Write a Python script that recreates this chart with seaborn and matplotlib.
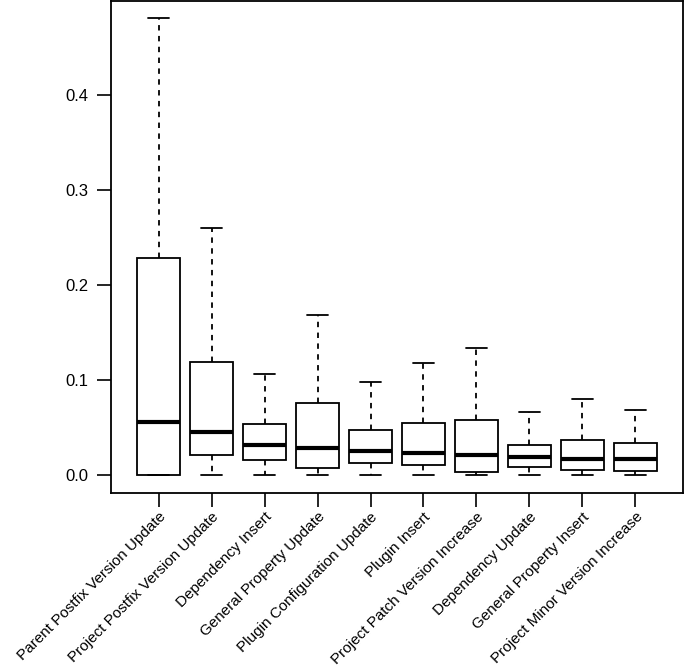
import numpy as np
import pandas as pd
import matplotlib
matplotlib.use('Agg')
import matplotlib.pyplot as plt
import seaborn as sns

## categories, in the order shown
categories = ["Parent Postfix Version Update", "Project Postfix Version Update",
              "Dependency Insert", "General Property Update",
              "Plugin Configuration Update", "Plugin Insert",
              "Project Patch Version Increase", "Dependency Update",
              "General Property Insert", "Project Minor Version Increase"]

## five-number summaries (min, q1, median, q3, max)
mins    = [0.0, 0.0, 0.0, 0.0, 0.0, 0.0, 0.0, 0.0, 0.0, 0.0]
q1s     = [0.0, 0.0204, 0.0158, 0.0074, 0.0126, 0.0098, 0.0025, 0.0077, 0.0053, 0.0035]
medians = [0.0558, 0.0446, 0.0313, 0.0281, 0.025, 0.0225, 0.021, 0.019, 0.0169, 0.0165]
q3s     = [0.2287, 0.119, 0.053, 0.0759, 0.0477, 0.0545, 0.058, 0.031, 0.0362, 0.034]
maxs    = [0.4815, 0.26, 0.106, 0.1686, 0.0977, 0.1177, 0.1338, 0.0657, 0.0794, 0.0678]

rows = []
for i, c in enumerate(categories):
    for v in (mins[i], q1s[i], medians[i], q3s[i], maxs[i]):
        rows.append({'type': c, 'value': v})
df = pd.DataFrame(rows)

sns.set_style('white')
plt.rcParams['font.family'] = ['Liberation Sans', 'DejaVu Sans']

fig = plt.figure(figsize=(6.85, 6.7), dpi=100)
ax = fig.add_axes([111/685, 1 - 493/670, 572/685, 492/670])

sns.boxplot(data=df, x='type', y='value', order=categories, ax=ax,
            whis=(0, 100), showfliers=False, width=0.8,
            color='white', linecolor='black', linewidth=1.3,
            medianprops={'linewidth': 3, 'color': 'black'},
            whiskerprops={'linestyle': (0, (3, 3)), 'color': 'black'},
            capprops={'color': 'black'},
            boxprops={'facecolor': 'white', 'edgecolor': 'black'})

ax.set_xlim(-0.9, 9.9)
ax.set_ylim(-0.0192, 0.4992)
ax.set_yticks([0.0, 0.1, 0.2, 0.3, 0.4])
ax.set_yticklabels(['0.0', '0.1', '0.2', '0.3', '0.4'])
ax.set_xlabel('')
ax.set_ylabel('')
ax.set_xticks(range(len(categories)))
ax.set_xticklabels(categories, rotation=45, ha='right', rotation_mode='anchor')

ax.tick_params(axis='both', direction='out', length=10, width=1.2,
               color='black', labelcolor='black', bottom=True, left=True)
ax.tick_params(axis='x', pad=2, labelsize=11)
ax.tick_params(axis='y', pad=6, labelsize=12)
for s in ax.spines.values():
    s.set_visible(True)
    s.set_color('black')
    s.set_linewidth(1.3)

fig.savefig('out.png', dpi=100)
